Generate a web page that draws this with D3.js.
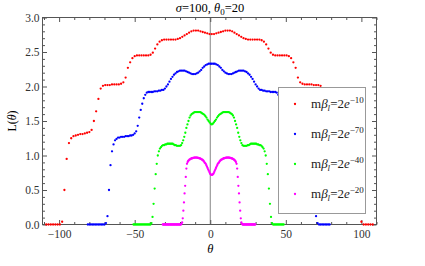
<!DOCTYPE html>
<meta charset="utf-8">
<script src="https://d3js.org/d3.v7.min.js"></script>
<style>
  body { margin: 0; background: #fff; }
  svg text { font-family: "Liberation Serif", "DejaVu Serif", serif; }
</style>
<div id="chart"></div>
<script>

// each curve is sampled on a regular grid: theta = start + i * step
var redStart = -108.5, redStep = 1.5;
var redL = [0,0,0,0,0,0,0,0.04,0.50,0.95,1.18,1.25,1.28,1.29,1.30,1.31,1.31,1.32,1.33,1.34,
  1.37,1.50,1.64,1.82,1.97,2.01,2.02,2.02,2.02,2.03,2.03,2.03,2.03,2.04,2.06,2.13,2.27,2.35,2.41,2.44,
  2.45,2.45,2.45,2.45,2.45,2.45,2.46,2.49,2.55,2.61,2.65,2.67,2.68,2.68,2.68,2.68,2.68,2.68,2.69,2.70,
  2.72,2.74,2.76,2.78,2.80,2.81,2.81,2.81,2.80,2.79,2.78,2.77,2.76,2.76,
  2.76,2.77,2.78,2.79,2.80,2.81,2.81,2.81,2.80,2.78,2.76,2.74,2.72,2.70,2.69,2.68,2.68,2.68,2.68,2.68,
  2.68,2.67,2.65,2.61,2.55,2.49,2.46,2.45,2.45,2.45,2.45,2.45,2.45,2.44,2.41,2.35,2.27,2.13,2.06,2.04,
  2.03,2.03,2.03,2.03,2.02,2.02,2.02,2.01,1.97,1.82,1.64,1.50,1.37,1.34,1.33,1.32,1.31,1.31,1.30,1.29,
  1.28,1.25,1.18,0.95,0.50,0.04,0,0,0,0,0];

var blueStart = -81, blueStep = 1;
var blueL = [0,0,0,0,0,0,0,0,0,0,0,0,0.02,0.12,0.50,0.86,1.06,1.16,1.22,1.24,
  1.26,1.26,1.27,1.27,1.27,1.28,1.28,1.28,1.29,1.29,1.30,1.32,1.35,1.43,1.55,1.66,1.75,1.83,1.88,1.91,
  1.92,1.92,1.92,1.92,1.93,1.93,1.93,1.94,1.94,1.95,1.95,1.97,2.00,2.03,2.07,2.11,2.14,2.17,2.19,2.21,
  2.22,2.23,2.23,2.23,2.23,2.22,2.21,2.20,2.19,2.18,2.18,2.18,2.19,2.20,2.22,2.24,2.27,2.29,2.31,2.32,
  2.33,2.33,2.33,
  2.33,2.33,2.32,2.31,2.29,2.27,2.24,2.22,2.20,2.19,2.18,2.18,2.18,2.19,2.20,2.21,2.22,2.23,2.23,2.23,
  2.23,2.22,2.21,2.19,2.17,2.14,2.11,2.07,2.03,2.00,1.97,1.95,1.95,1.94,1.94,1.93,1.93,1.93,1.92,1.92,
  1.92,1.92,1.91,1.88,1.83,1.75,1.66,1.55,1.43,1.35,1.32,1.30,1.29,1.29,1.28,1.28,1.28,1.27,1.27,1.27,
  1.26,1.26,1.24,1.22,1.16,1.06,0.86,0.50,0.12,0.02,0,0,0,0,0,0,0,0];

var greenStart = -50.8, greenStep = 0.7;
var greenL = [0,0,0,0,0,0,0,0,0,0,0,0,0,0,0,0,0,
  0.02,0.11,0.30,0.52,0.73,0.88,1.00,1.06,1.10,1.12,1.14,1.15,1.15,1.16,1.16,1.17,1.17,1.17,1.17,1.17,
  1.17,1.16,1.15,1.15,1.14,1.14,1.14,1.14,1.15,1.18,1.22,1.27,1.33,1.40,1.45,1.50,1.55,1.58,1.60,1.61,
  1.62,1.63,1.63,1.63,1.63,1.63,1.63,1.62,1.61,1.60,1.59,1.57,1.55,1.52,1.50,1.48,1.46,1.45,
  1.46,1.48,1.50,1.52,1.55,1.57,1.59,1.60,1.61,1.62,1.63,1.63,1.63,1.63,1.63,1.63,1.62,1.61,1.60,1.58,
  1.55,1.50,1.45,1.40,1.33,1.27,1.22,1.18,1.15,1.14,1.14,1.14,1.14,1.15,1.15,1.16,1.17,1.17,1.17,1.17,
  1.17,1.17,1.16,1.16,1.15,1.15,1.14,1.12,1.10,1.06,1.00,0.88,0.73,0.52,0.30,0.11,0.02,
  0,0,0,0,0,0,0,0,0,0,0];

var magentaStart = -31.4, magentaStep = 0.4;
var magentaL = [0,0,0,0,0,0,0,0,0,0,0,0,0,0,0,0,0,0,0,0,0,0,0,0,0,0,0,0,0,0,0,
  0.01,0.03,0.09,0.20,0.32,0.45,0.56,0.69,0.81,0.88,0.905,0.92,0.93,0.94,0.945,0.95,0.955,0.96,0.96,0.965,
  0.965,0.97,0.97,0.97,0.97,0.97,0.97,0.965,0.965,0.96,0.96,0.955,0.95,0.945,0.94,0.935,0.925,0.915,0.90,0.89,
  0.88,0.86,0.84,0.82,0.80,0.78,0.76,0.74,0.73,0.72,0.72,
  0.72,0.73,0.74,0.76,0.78,0.80,0.82,0.84,0.86,0.88,0.89,0.90,0.915,0.925,0.935,0.94,0.945,0.95,0.955,0.96,
  0.96,0.965,0.965,0.97,0.97,0.97,0.97,0.97,0.97,0.965,0.965,0.96,0.96,0.955,0.95,0.945,0.94,0.93,0.92,0.905,
  0.88,0.81,0.69,0.56,0.45,0.32,0.20,0.09,0.03,0.01,
  0,0,0,0,0,0,0,0,0,0,0,0,0,0,0,0,0,0,0,0,0,0];

var seriesColors = ["#ff0000", "#0000ff", "#00ff00", "#ff00ff"];
var legendExp = ["\u221210", "\u221270", "\u221240", "\u221220"];

var xMajor = [-100, -50, 0, 50, 100];
var xMinor = [-110, -90, -80, -70, -60, -40, -30, -20, -10, 10, 20, 30, 40, 60, 70, 80, 90, 110];
var yMajor = [0, 0.5, 1, 1.5, 2, 2.5, 3];
var yMinor = [0.1, 0.2, 0.3, 0.4, 0.6, 0.7, 0.8, 0.9, 1.1, 1.2, 1.3, 1.4, 1.6, 1.7, 1.8, 1.9,
  2.1, 2.2, 2.3, 2.4, 2.6, 2.7, 2.8, 2.9];

var series = [
  {start: redStart, step: redStep, values: redL},
  {start: blueStart, step: blueStep, values: blueL},
  {start: greenStart, step: greenStep, values: greenL},
  {start: magentaStart, step: magentaStep, values: magentaL}
];

var width = 425, height = 266;

var svg = d3.select("#chart")
  .append("svg")
    .attr("width", width)
    .attr("height", height);

var x = d3.scaleLinear().domain([-111, 110]).range([42.5, 376.5]);
var y = d3.scaleLinear().domain([0, 3]).range([224.5, 17.5]);

// vertical axis at theta = 0
svg.append("line")
  .attr("x1", x(0)).attr("x2", x(0))
  .attr("y1", y(0)).attr("y2", y(3))
  .attr("stroke", "#777")
  .attr("stroke-width", 0.9);

// frame ticks, all pointing inwards
function tidy(g, labels) {
  g.select(".domain").remove();
  g.selectAll("line").attr("stroke", "#555");
  g.attr("font-family", "Liberation Serif, serif").attr("font-size", 11.5);
  g.selectAll("text").attr("fill", "#333");
  if (!labels) g.selectAll("text").remove();
}

svg.append("g").attr("transform", "translate(0," + y(0) + ")")
  .call(d3.axisBottom(x).tickValues(xMajor).tickSize(-4.5).tickPadding(5).tickFormat(d3.format("d")))
  .call(tidy, true);
svg.append("g").attr("transform", "translate(0," + y(0) + ")")
  .call(d3.axisBottom(x).tickValues(xMinor).tickSize(-2.5))
  .call(tidy, false);
svg.append("g").attr("transform", "translate(0," + y(3) + ")")
  .call(d3.axisTop(x).tickValues(xMajor).tickSize(-4.5))
  .call(tidy, false);
svg.append("g").attr("transform", "translate(0," + y(3) + ")")
  .call(d3.axisTop(x).tickValues(xMinor).tickSize(-2.5))
  .call(tidy, false);

svg.append("g").attr("transform", "translate(" + x(-111) + ",0)")
  .call(d3.axisLeft(y).tickValues(yMajor).tickSize(-4.5).tickPadding(3).tickFormat(d3.format(".1f")))
  .call(tidy, true);
svg.append("g").attr("transform", "translate(" + x(-111) + ",0)")
  .call(d3.axisLeft(y).tickValues(yMinor).tickSize(-2.5))
  .call(tidy, false);
svg.append("g").attr("transform", "translate(" + x(110) + ",0)")
  .call(d3.axisRight(y).tickValues(yMajor).tickSize(-4.5))
  .call(tidy, false);
svg.append("g").attr("transform", "translate(" + x(110) + ",0)")
  .call(d3.axisRight(y).tickValues(yMinor).tickSize(-2.5))
  .call(tidy, false);

// frame
svg.append("rect")
  .attr("x", x(-111)).attr("y", y(3))
  .attr("width", x(110) - x(-111))
  .attr("height", y(0) - y(3))
  .attr("fill", "none")
  .attr("stroke", "#555");

// the points, over the frame
series.forEach(function(s, k) {
  var pts = s.values.map(function(v, i) { return {t: s.start + i * s.step, v: v}; });
  svg.append("g")
    .selectAll("circle")
    .data(pts)
    .enter()
    .append("circle")
      .attr("cx", function(d) { return x(d.t); })
      .attr("cy", function(d) { return y(d.v); })
      .attr("r", 1.15)
      .attr("fill", seriesColors[k]);
});

// title
var title = svg.append("text")
  .attr("x", 210).attr("y", 12)
  .attr("text-anchor", "middle")
  .attr("font-size", 12.5);
title.append("tspan").attr("font-style", "italic").text("\u03c3");
title.append("tspan").text("=100, ");
title.append("tspan").attr("font-style", "italic").text("\u03b8");
title.append("tspan").attr("font-size", 9).attr("dy", 3).text("0");
title.append("tspan").attr("dy", -3).text("=20");

// axis titles
var yt = svg.append("text")
  .attr("transform", "translate(16," + ((y(0) + y(3)) / 2) + ") rotate(-90)")
  .attr("text-anchor", "middle")
  .attr("font-size", 12);
yt.append("tspan").text("L(");
yt.append("tspan").attr("font-style", "italic").text("\u03b8");
yt.append("tspan").text(")");

svg.append("text")
  .attr("x", x(0)).attr("y", 253)
  .attr("text-anchor", "middle")
  .attr("font-size", 12.5)
  .attr("font-style", "italic")
  .text("\u03b8");

// legend
var lx = 278.5, ly = 87.5, lw = 87, lh = 126;
svg.append("clipPath").attr("id", "legclip")
  .append("rect").attr("x", lx).attr("y", ly).attr("width", lw).attr("height", lh);

var leg = svg.append("g");
leg.append("rect")
  .attr("x", lx).attr("y", ly).attr("width", lw).attr("height", lh)
  .attr("fill", "#fff")
  .attr("stroke", "#999");

var rows = leg.append("g").attr("clip-path", "url(#legclip)");
legendExp.forEach(function(e, i) {
  var ry = 104 + i * 30;
  rows.append("circle").attr("cx", 295).attr("cy", ry).attr("r", 1.15).attr("fill", seriesColors[i]);
  var t = rows.append("text").attr("x", 311).attr("y", ry + 4).attr("font-size", 13).attr("fill", "#222");
  t.append("tspan").text("m");
  t.append("tspan").attr("font-style", "italic").text("\u03b2");
  t.append("tspan").attr("font-style", "italic").attr("font-size", 9).attr("dy", 3).text("l");
  t.append("tspan").attr("dy", -3).text("=2");
  t.append("tspan").attr("font-style", "italic").text("e");
  t.append("tspan").attr("font-size", 9).attr("dy", -5.5).text(e);
});

</script>
